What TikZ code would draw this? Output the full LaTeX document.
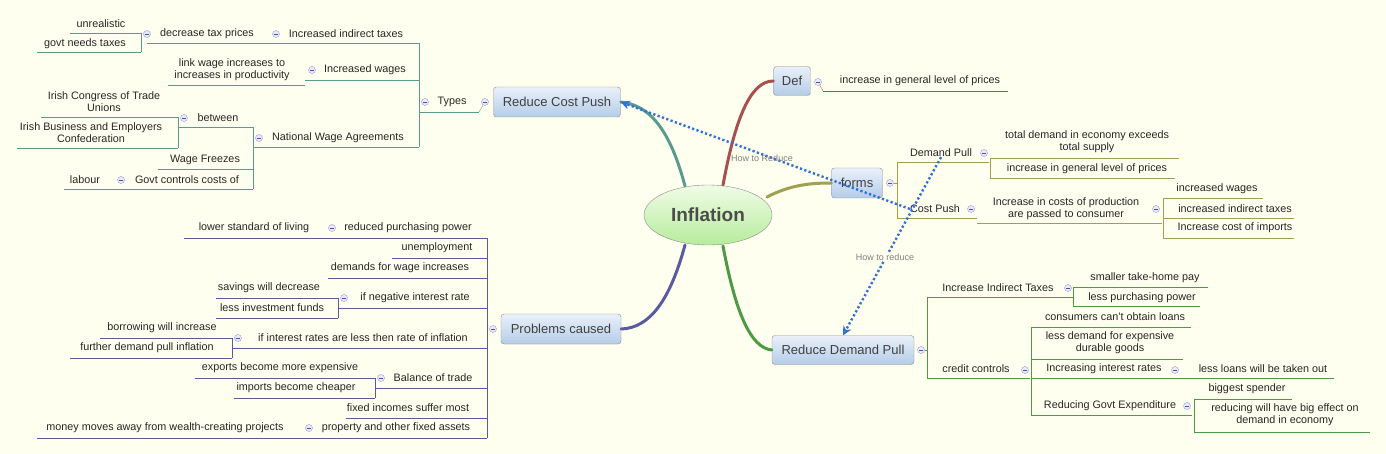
\documentclass[tikz,border=0pt]{standalone}
\usepackage{fontspec}
\setmainfont{Liberation Sans}
\usetikzlibrary{shapes.geometric,arrows.meta}
\definecolor{bg}{HTML}{FFFFF0}
\definecolor{cT}{HTML}{5A9A90}
\definecolor{cP}{HTML}{5A5A9E}
\definecolor{cD}{HTML}{A65050}
\definecolor{cF}{HTML}{A0A050}
\definecolor{cG}{HTML}{4E9A44}
\definecolor{arr}{HTML}{2F6FD8}
\definecolor{btop}{HTML}{EAF1FA}
\definecolor{bbot}{HTML}{B4CCE8}
\definecolor{etop}{HTML}{F0FCE6}
\definecolor{ebot}{HTML}{B6EC9C}
\tikzset{
 leaf/.style={font=\fontsize{10.8}{12}\selectfont, align=center, inner sep=0pt, text=black!85},
 mbox/.style={draw=black!45, rounded corners=3pt, top color=btop, bottom color=bbot, font=\fontsize{13}{15}\selectfont, text=black!75, inner sep=0pt},
 coll/.style={circle, draw=blue!35!gray!60, fill=blue!8, minimum size=7pt, inner sep=0pt,
   path picture={\draw[blue!40!gray] ([xshift=-2pt]path picture bounding box.center) -- ([xshift=2pt]path picture bounding box.center);}},
 br/.style={line width=#1, line cap=round},
 lab/.style={font=\fontsize{9}{10}\selectfont, text=black!50, inner sep=1pt},
 dots/.style={arr, line width=2.4pt, dash pattern=on 2.2pt off 2.4pt, -{Stealth[length=9pt,width=9pt,open]}}
}
\newcommand\lf[8]{\node[leaf] (#1) at (#3,#4) {#5}; \draw[#2] (#6,#8) -- (#7,#8);}
\newcommand\vb[4]{\draw[#1, rounded corners=2pt] (#2,#3) -- (#2,#4);}
\newcommand\cc[3]{\node[coll] (#1) at (#2,#3) {};}
\begin{document}
\begin{tikzpicture}[x=1pt,y=-1pt]
\fill[bg] (0,0) rectangle (1386,454);
\useasboundingbox (0,0) rectangle (1386,454);
% centre
\node[ellipse, draw=black!45, top color=etop, bottom color=ebot, minimum width=128pt, minimum height=60pt, font=\bfseries\fontsize{19}{22}\selectfont, text=black!70] (inf) at (708,215) {Inflation};
% main boxes
\node[mbox, minimum width=37pt, minimum height=29pt] (def) at (792,81) {Def};
\node[mbox, minimum width=51pt, minimum height=30pt] (forms) at (857,183) {forms};
\node[mbox, minimum width=127pt, minimum height=30pt] (rcp) at (557,102) {Reduce Cost Push};
\node[mbox, minimum width=120pt, minimum height=30pt] (pc) at (561,329) {Problems caused};
\node[mbox, minimum width=142pt, minimum height=29pt] (rdp) at (843,350) {Reduce Demand Pull};
% branches
\draw[cD, br=3pt] (723,185) .. controls (735,120) and (750,81) .. (def.west);
\draw[cT, br=3pt] (685,186) .. controls (670,130) and (650,105) .. (rcp.east);
\draw[cF, br=3pt] (767,197) .. controls (790,185) and (810,183) .. (forms.west);
\draw[cP, br=3pt] (685,245) .. controls (670,300) and (650,328) .. (pc.east);
\draw[cG, br=3pt] (723,246) .. controls (735,310) and (750,348) .. (rdp.west);
% ---- Def
\cc{c1}{818}{82}
\lf{d1}{cD}{920}{81}{increase in general level of prices}{823}{1008}{91}
\draw[cD] (c1) -- (823,91);
% ---- forms
\cc{c2}{890}{183}
\vb{cF}{897}{162}{218}
\draw[cF] (c2) -- (897,183);
\lf{dp}{cF}{941}{153}{Demand Pull}{897}{989}{162}
\cc{c3}{984}{153}
\vb{cF}{990}{158}{178}
\lf{f1}{cF}{1087}{142}{total demand in economy exceeds\\total supply}{990}{1179}{158}
\lf{f2}{cF}{1087}{169}{increase in general level of prices}{990}{1175}{178}
\lf{cpu}{cF}{935}{209}{Cost Push}{897}{977}{218}
\cc{c4}{971}{209}
\lf{f3}{cF}{1066}{209}{Increase in costs of production\\are passed to consumer}{977}{1162}{223}
\cc{c5}{1156}{209}
\vb{cF}{1163}{198}{238}
\lf{f4}{cF}{1217}{189}{increased wages}{1163}{1263}{198}
\lf{f5}{cF}{1235}{209}{increased indirect taxes}{1163}{1294}{218}
\lf{f6}{cF}{1235}{228}{Increase cost of imports}{1163}{1294}{238}
% ---- Reduce Demand Pull
\cc{c6}{921}{350}
\vb{cG}{927}{297}{378}
\draw[cG] (c6) -- (927,350);
\lf{g1}{cG}{998}{288}{Increase Indirect Taxes}{927}{1073}{297}
\cc{c7}{1068}{288}
\vb{cG}{1073}{287}{306}
\lf{g2}{cG}{1145}{278}{smaller take-home pay}{1073}{1208}{287}
\lf{g3}{cG}{1142}{298}{less purchasing power}{1073}{1200}{306}
\lf{g4}{cG}{976}{369}{credit controls}{927}{1030}{378}
\cc{c8}{1025}{370}
\vb{cG}{1031}{327}{415}
\lf{g5}{cG}{1115}{317}{consumers can't obtain loans}{1031}{1191}{327}
\lf{g6}{cG}{1110}{343}{less demand for expensive\\durable goods}{1031}{1183}{359}
\lf{g7}{cG}{1104}{369}{Increasing interest rates}{1031}{1334}{378}
\cc{c9}{1175}{370}
\node[leaf] (g8) at (1263,369) {less loans will be taken out};
\lf{g9}{cG}{1110}{406}{Reducing Govt Expenditure}{1031}{1192}{415}
\cc{c10}{1187}{406}
\vb{cG}{1194}{399}{432}
\lf{g10}{cG}{1247}{389}{biggest spender}{1194}{1292}{399}
\lf{g11}{cG}{1285}{415}{reducing will have big effect on\\demand in economy}{1194}{1370}{432}
% ---- Reduce Cost Push
\cc{c11}{485}{102}
\draw[cT] (c11) -- (479,112);
\lf{t1}{cT}{452}{102}{Types}{419}{479}{112}
\cc{c12}{425}{102}
\vb{cT}{419}{43}{147}
\lf{t2}{cT}{346}{34}{Increased indirect taxes}{147}{419}{43}
\cc{c13}{276}{34}
\node[leaf] (t3) at (207,34) {decrease tax prices};
\cc{c14}{147}{34}
\vb{cT}{141}{33}{52}
\lf{t4}{cT}{101}{24}{unrealistic}{70}{141}{33}
\lf{t5}{cT}{85}{44}{govt needs taxes}{37}{141}{52}
\lf{t6}{cT}{365}{70}{Increased wages}{305}{419}{80}
\cc{c15}{312}{70}
\lf{t7}{cT}{232}{70}{link wage increases to\\increases in productivity}{168}{305}{85}
\lf{t8}{cT}{338}{138}{National Wage Agreements}{253}{419}{147}
\cc{c16}{259}{138}
\vb{cT}{253}{127}{189}
\lf{t9}{cT}{218}{118}{between}{178}{253}{127}
\cc{c17}{184}{118}
\vb{cT}{178}{117}{148}
\lf{t10}{cT}{104}{102}{Irish Congress of Trade\\Unions}{41}{178}{117}
\lf{t11}{cT}{91}{133}{Irish Business and Employers\\Confederation}{17}{178}{148}
\lf{t12}{cT}{205}{160}{Wage Freezes}{158}{253}{169}
\lf{t13}{cT}{187}{180}{Govt controls costs of}{114}{253}{189}
\cc{c18}{121}{180}
\lf{t14}{cT}{85}{180}{labour}{64}{114}{189}
% ---- Problems caused
\cc{c19}{493}{329}
\vb{cP}{487}{238}{438}
\lf{p1}{cP}{408}{228}{reduced purchasing power}{184}{487}{238}
\cc{c20}{332}{228}
\node[leaf] (p2) at (254,228) {lower standard of living};
\lf{p3}{cP}{437}{248}{unemployment}{392}{487}{258}
\lf{p4}{cP}{400}{268}{demands for wage increases}{328}{487}{278}
\lf{p5}{cP}{415}{298}{if negative interest rate}{338}{487}{308}
\cc{c21}{344}{298}
\vb{cP}{338}{298}{318}
\lf{p6}{cP}{269}{288}{savings will decrease}{216}{338}{298}
\lf{p7}{cP}{272}{308}{less investment funds}{216}{338}{318}
\lf{p8}{cP}{363}{338}{if interest rates are less then rate of inflation}{232}{487}{348}
\cc{c22}{238}{338}
\vb{cP}{232}{338}{358}
\lf{p9}{cP}{162}{328}{borrowing will increase}{100}{232}{338}
\lf{p10}{cP}{147}{348}{further demand pull inflation}{70}{232}{358}
\lf{p11}{cP}{433}{378}{Balance of trade}{375}{487}{388}
\cc{c23}{381}{378}
\vb{cP}{375}{378}{398}
\lf{p12}{cP}{280}{368}{exports become more expensive}{195}{375}{378}
\lf{p13}{cP}{296}{388}{imports become cheaper}{234}{375}{398}
\lf{p14}{cP}{408}{408}{fixed incomes suffer most}{346}{487}{418}
\lf{p15}{cP}{396}{428}{property and other fixed assets}{37}{487}{438}
\cc{c24}{309}{428}
\node[leaf] (p16) at (165,428) {money moves away from wealth-creating projects};
% ---- relationships
\draw[dots] (cpu.west) -- (rcp.east);
\node[lab] (l1) at (762,158) {How to Reduce};
\draw[dots] (dp.south) -- (rdp.north);
\node[lab, fill=bg] (l2) at (885,257) {How to reduce};
\end{tikzpicture}
\end{document}
